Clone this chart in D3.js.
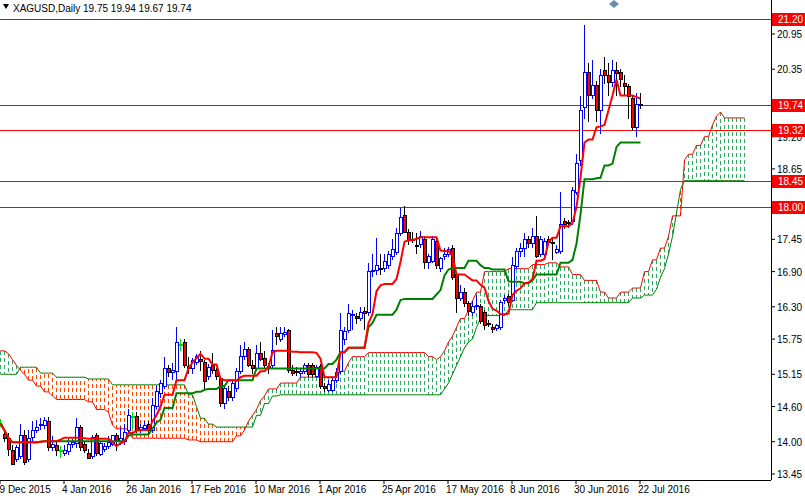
<!DOCTYPE html>
<html><head><meta charset="utf-8">
<script src="https://cdn.jsdelivr.net/npm/d3@7"></script>
<style>body{margin:0;background:#fff}svg{display:block;font-family:"Liberation Sans",Arial,sans-serif}</style>
</head><body><div id="chart"></div>
<script>
const W = 805, H = 496;

// OHLC, one row per daily bar
const ohlc = [
[14.30,14.38,14.25,14.30],[14.12,14.20,14.00,14.05],[14.05,14.15,13.75,13.87],[13.85,13.95,13.60,13.62],
[13.70,13.95,13.65,13.90],[13.75,14.30,13.70,14.10],[14.10,14.20,13.60,13.65],[13.70,14.20,13.65,14.05],
[14.08,14.35,14.00,14.20],[14.20,14.37,14.15,14.25],[14.27,14.40,14.20,14.30],[14.27,14.42,14.22,14.36],
[14.35,14.42,13.85,13.90],[13.90,14.10,13.85,13.95],[13.93,14.00,13.75,13.85],[13.85,13.93,13.72,13.85],
[13.80,13.95,13.75,13.85],[13.83,14.05,13.78,13.95],[13.95,14.05,13.90,13.98],[13.97,14.40,13.90,14.25],
[14.25,14.28,13.85,13.90],[13.95,14.00,13.80,13.85],[13.80,13.88,13.70,13.72],[13.75,14.12,13.70,14.08],
[14.10,14.15,13.75,13.80],[13.78,14.00,13.75,13.97],[13.87,13.98,13.82,13.92],[13.92,14.10,13.88,13.98],
[13.95,14.12,13.92,14.10],[14.10,14.15,13.85,14.00],[14.00,14.25,13.95,14.05],[14.00,14.30,13.95,14.15],
[14.20,14.55,14.15,14.45],[14.43,14.50,14.20,14.43],[14.43,14.50,14.15,14.20],[14.20,14.30,14.15,14.25],
[14.22,14.35,14.18,14.28],[14.30,14.35,14.15,14.20],[14.20,14.75,14.15,14.62],[14.60,14.95,14.55,14.85],
[14.82,15.05,14.75,15.00],[14.95,15.45,14.90,15.25],[15.25,15.30,15.10,15.18],[15.18,15.35,15.05,15.22],
[15.20,15.95,15.05,15.70],[15.65,15.75,15.55,15.65],[15.70,15.75,15.25,15.30],[15.28,15.45,15.15,15.25],
[15.25,15.42,15.15,15.38],[15.35,15.50,15.30,15.45],[15.40,15.55,15.20,15.37],[15.35,15.40,14.88,15.02],
[15.12,15.32,15.05,15.27],[15.30,15.52,15.15,15.22],[15.22,15.25,15.05,15.12],[15.07,15.08,14.60,14.65],
[14.65,14.95,14.55,14.90],[14.85,14.95,14.70,14.75],[14.75,15.05,14.70,15.00],[14.90,15.25,14.85,15.20],
[15.20,15.65,15.15,15.45],[15.45,15.70,15.40,15.58],[15.58,15.62,15.28,15.30],[15.30,15.40,15.15,15.25],
[15.25,15.65,15.20,15.50],[15.50,15.70,15.38,15.40],[15.42,15.55,15.25,15.30],[15.28,15.35,15.15,15.25],
[15.30,15.90,15.25,15.55],[15.85,15.95,15.65,15.80],[15.75,15.95,15.70,15.85],[15.82,15.95,15.78,15.87],
[15.90,15.93,15.18,15.22],[15.22,15.30,15.12,15.17],[15.20,15.28,15.12,15.18],[15.17,15.25,15.10,15.20],
[15.20,15.35,15.15,15.30],[15.30,15.35,15.10,15.15],[15.30,15.35,15.10,15.15],[15.12,15.30,15.08,15.27],
[15.28,15.32,14.90,14.95],[14.95,15.00,14.85,14.90],[14.88,15.05,14.85,14.97],[14.88,15.10,14.85,15.05],
[15.05,15.25,15.00,15.18],[15.20,16.20,15.15,15.90],[15.75,15.95,15.65,15.88],[15.90,16.35,15.85,16.18],
[16.15,16.25,15.90,16.17],[16.13,16.20,16.00,16.10],[16.10,16.30,16.05,16.20],[16.22,16.30,15.90,16.18],
[16.20,17.05,16.15,16.90],[16.90,17.20,16.80,16.92],[16.92,17.48,16.85,17.00],[16.95,17.20,16.85,16.93],
[16.95,17.20,16.90,17.08],[17.00,17.25,16.95,17.20],[17.15,17.45,17.10,17.27],[17.22,17.65,17.18,17.55],
[17.55,17.98,17.50,17.82],[17.85,18.02,17.55,17.57],[17.57,17.62,17.35,17.43],[17.45,17.57,17.38,17.44],
[17.35,17.55,17.20,17.34],[17.37,17.60,17.30,17.50],[17.45,17.50,16.95,17.05],[17.05,17.20,16.95,17.15],
[17.08,17.50,17.05,17.45],[17.42,17.45,16.95,17.00],[16.95,17.15,16.90,17.12],[17.15,17.30,17.10,17.20],
[17.20,17.32,17.15,17.27],[17.30,17.35,16.75,16.80],[16.85,16.90,16.20,16.45],[16.45,16.68,16.40,16.55],
[16.55,16.62,16.30,16.35],[16.35,16.40,16.15,16.22],[16.20,16.40,16.15,16.30],[16.30,16.50,16.25,16.32],
[16.30,16.35,16.00,16.05],[16.20,16.25,15.90,15.98],[16.02,16.07,15.95,16.00],[15.95,16.00,15.85,15.92],
[15.93,16.00,15.88,15.98],[15.95,16.42,15.90,16.38],[16.40,16.50,16.35,16.45],[16.48,16.52,16.32,16.38],
[16.40,17.15,16.38,17.00],[16.98,17.30,16.95,17.25],[17.25,17.38,17.15,17.30],[17.30,17.55,17.15,17.45],
[17.45,17.50,17.30,17.38],[17.38,17.65,17.30,17.50],[17.50,17.85,17.13,17.15],[17.20,17.50,17.15,17.45],
[17.20,17.48,17.15,17.42],[17.45,17.50,17.35,17.40],[17.40,17.45,17.10,17.38],[17.22,17.35,17.20,17.27],
[17.25,18.25,17.20,17.70],[17.75,17.82,17.62,17.70],[17.73,17.78,17.65,17.72],[17.75,18.35,17.70,18.28],
[18.25,18.90,18.20,18.75],[18.80,19.90,18.70,19.65],[19.70,21.10,19.50,20.30],[20.30,20.45,19.45,19.90],
[19.90,20.50,19.85,20.08],[20.08,20.15,19.45,19.65],[19.65,20.35,19.25,20.25],[20.33,20.55,20.10,20.25],
[20.25,20.45,19.90,20.12],[20.12,20.50,20.05,20.33],[20.33,20.48,19.90,20.28],[20.30,20.35,20.05,20.18],
[20.10,20.25,19.90,20.05],[20.05,20.10,19.50,19.88],[19.85,19.90,19.30,19.35],[19.35,19.94,19.20,19.75],
[19.75,19.94,19.67,19.74]
];

// Senkou span A / B, as [value, number of bars]
const spanARuns = [[15.55,2],[15.5,1],[15.4,1],[15.3,1],[15.22,1],[15.15,1],[15.05,2],[14.95,2],[14.85,2],[14.78,1],
[14.72,8],[14.68,2],[14.55,3],[14.5,1],[14.28,1],[14.22,4],[14.06,14],[14.03,3],[14.0,9],[14.1,2],[14.2,1],[14.35,1],
[14.45,1],[14.55,1],[14.7,1],[14.78,1],[14.9,3],[15.0,5],[15.1,10],[15.2,2],[15.35,1],[15.45,4],[15.52,15],[15.45,2],
[15.4,1],[15.45,1],[15.55,1],[15.7,1],[15.8,1],[15.95,1],[16.1,2],[16.25,1],[16.4,1],[16.55,2],[16.9,6],[16.95,6],
[17.02,4],[17.05,3],[16.98,3],[16.85,3],[16.75,4],[16.55,2],[16.45,3],[16.55,3],[16.62,3],[16.9,2],[17.1,2],[17.3,2],
[17.5,1],[17.85,3],[18.8,1],[18.9,2],[19.05,2],[19.2,2],[19.4,1],[19.55,1],[19.62,1],[19.52,6]];
const spanBRuns = [[15.15,5],[15.27,5],[15.17,4],[15.1,8],[15.07,6],[14.97,19],[14.8,2],[14.6,1],[14.4,2],[14.3,2],
[14.25,10],[14.45,2],[14.65,2],[14.78,2],[14.8,41],[14.9,1],[15.0,1],[15.15,1],[15.3,1],[15.45,1],[15.6,1],[15.7,1],
[15.75,1],[15.95,1],[16.1,1],[16.15,6],[16.25,7],[16.37,24],[16.45,3],[16.5,3],[16.6,1],[16.8,1],[16.95,1],[17.2,1],
[17.5,1],[17.9,1],[18.3,1],[18.45,16]];

const priceTicks = [20.95, 20.35, 19.20, 18.65, 17.45, 16.90, 16.30, 15.75, 15.15, 14.60, 14.00, 13.45];
const levels = [21.20, 19.74, 19.32, 18.45, 18.00];
const dateTicks = [0, 16, 32, 48, 64, 80, 96, 112, 128, 144, 160];
const dateLabels = ["29 Dec 2015", "4 Jan 2016", "26 Jan 2016", "17 Feb 2016", "10 Mar 2016", "1 Apr 2016",
  "25 Apr 2016", "17 May 2016", "8 Jun 2016", "30 Jun 2016", "22 Jul 2016"];

const unroll = runs => runs.flatMap(([v, n]) => d3.range(n).map(() => v));
const spanA = unroll(spanARuns), spanB = unroll(spanBRuns);

// tenkan (9) / kijun (26) midpoints
const mid = (i, n) => {
  const s = ohlc.slice(Math.max(0, i - n + 1), i + 1);
  return (d3.max(s, d => d[1]) + d3.min(s, d => d[2])) / 2;
};
const tenkan = ohlc.map((d, i) => mid(i, 9));
const kijun = ohlc.map((d, i) => mid(i, 26));

const plotR = 771, plotB = 480;
const x = d3.scaleLinear().domain([0, 1]).range([0, 4]);
const y = d3.scaleLinear().domain([13.45, 20.95]).range([474, 34]);

const svg = d3.select("#chart").append("svg").attr("width", W).attr("height", H);
const plot = svg.append("g");
svg.append("clipPath").attr("id", "clip").append("rect").attr("width", plotR).attr("height", plotB);
plot.attr("clip-path", "url(#clip)");

// cloud hatching
const cloud = plot.append("g").attr("shape-rendering", "crispEdges");
spanA.forEach((a, i) => {
  const b = spanB[i];
  if (b === undefined) return;
  cloud.append("line").attr("x1", x(i) + 0.5).attr("x2", x(i) + 0.5)
    .attr("y1", Math.round(y(a))).attr("y2", Math.round(y(b)))
    .attr("stroke", a >= b ? "#2eaa60" : "#ff4500").attr("stroke-width", 1)
    .attr("stroke-dasharray", "4,3");
});
const line = d3.line().x((d, i) => x(i) + 0.5).y(d => y(d));
plot.append("path").attr("d", line(spanA)).attr("fill", "none").attr("stroke", "#ff0000").attr("stroke-width", 1);
plot.append("path").attr("d", line(spanB)).attr("fill", "none").attr("stroke", "#008000").attr("stroke-width", 1);

// horizontal levels
levels.forEach(v => plot.append("line").attr("x1", 0).attr("x2", plotR)
  .attr("y1", Math.round(y(v)) + 0.5).attr("y2", Math.round(y(v)) + 0.5).attr("stroke", "#ff0000"));

// candles
const cg = plot.append("g").attr("shape-rendering", "crispEdges");
ohlc.forEach(([o, h, l, c], i) => {
  const cx = x(i) + 0.5;
  const up = c > o, doji = Math.abs(c - o) < 0.005;
  const col = doji ? "#00dd00" : up ? "#0000ff" : "#000";
  cg.append("line").attr("x1", cx).attr("x2", cx).attr("y1", y(h)).attr("y2", y(l)).attr("stroke", col);
  const top = y(Math.max(o, c)), bh = Math.max(1, Math.abs(y(o) - y(c)));
  cg.append("rect").attr("x", cx - 1.5).attr("y", top).attr("width", 3).attr("height", bh)
    .attr("fill", up || doji ? "#fff" : "#ff0000").attr("stroke", col).attr("stroke-width", 1);
});

plot.append("path").attr("d", line(kijun)).attr("fill", "none").attr("stroke", "#008000").attr("stroke-width", 2);
plot.append("path").attr("d", line(tenkan)).attr("fill", "none").attr("stroke", "#ff0000").attr("stroke-width", 2);

// axes frame
svg.append("line").attr("x1", plotR + 0.5).attr("x2", plotR + 0.5).attr("y1", 0).attr("y2", plotB).attr("stroke", "#000");
svg.append("line").attr("x1", 0).attr("x2", plotR).attr("y1", plotB + 0.5).attr("y2", plotB + 0.5).attr("stroke", "#000");

const yAxis = svg.append("g").attr("font-size", 10);
priceTicks.forEach(v => {
  yAxis.append("line").attr("x1", plotR).attr("x2", plotR + 4).attr("y1", y(v)).attr("y2", y(v)).attr("stroke", "#000");
  yAxis.append("text").attr("x", plotR + 6).attr("y", y(v) + 4).text(v.toFixed(2));
});
levels.forEach(v => {
  const yy = Math.round(y(v));
  yAxis.append("rect").attr("x", plotR + 1).attr("y", yy - 6).attr("width", 34).attr("height", 13).attr("fill", "#ff0000");
  yAxis.append("text").attr("x", plotR + 7).attr("y", yy + 4).attr("fill", "#fff").text(v.toFixed(2));
});

const xAxis = svg.append("g").attr("font-size", 10);
dateTicks.forEach((t, k) => {
  xAxis.append("line").attr("x1", x(t)).attr("x2", x(t)).attr("y1", plotB).attr("y2", plotB + 4).attr("stroke", "#000");
  xAxis.append("text").attr("x", k === 0 ? -6 : x(t) - 2).attr("y", 493).text(dateLabels[k]);
});

svg.append("path").attr("d", "M3,4 L9,4 L6,9 Z").attr("fill", "#000");
svg.append("text").attr("x", 13).attr("y", 12).attr("font-size", 10)
  .text("XAGUSD,Daily  19.75 19.94 19.67 19.74");
svg.append("path").attr("d", "M614,0 L619,4 L614,8 L609,4 Z").attr("fill", "#6a8cad");
</script></body></html>
